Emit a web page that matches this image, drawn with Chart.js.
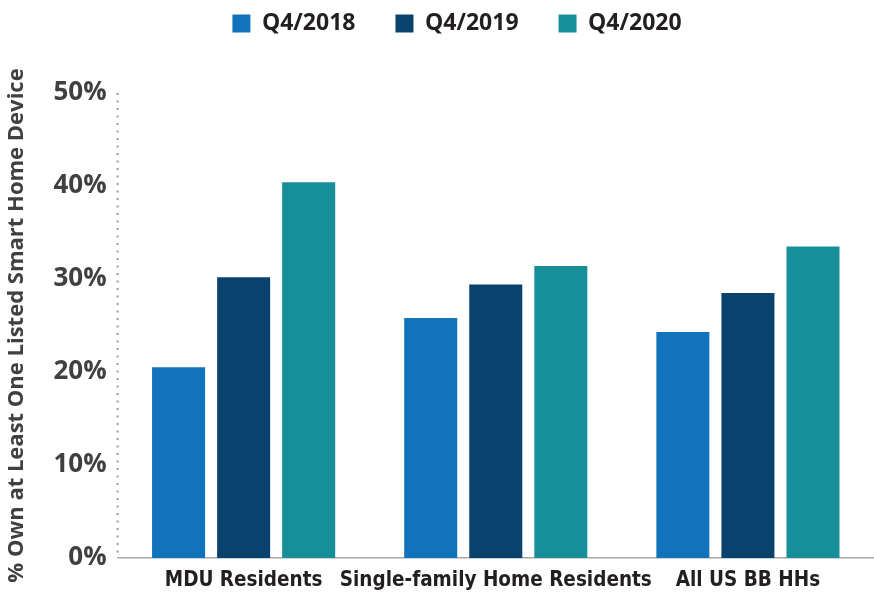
<!DOCTYPE html>
<html><head><meta charset="utf-8">
<script src="https://cdn.jsdelivr.net/npm/chart.js@4"></script>
<style>html,body{margin:0;padding:0;background:#fff}</style>
</head><body>
<canvas id="c" width="874" height="594"></canvas>
<script>
const categories = ['MDU Residents', 'Single-family Home Residents', 'All US BB HHs'];
const seriesNames = ['Q4/2018', 'Q4/2019', 'Q4/2020'];
const q2018 = [20.5, 25.8, 24.3];
const q2019 = [30.2, 29.4, 28.5];
const q2020 = [40.4, 31.4, 33.5];
const yTickValues = [0, 10, 20, 30, 40, 50];
const yTitle = '% Own at Least One Listed Smart Home Device';
const seriesColors = ['#1173BB', '#09436D', '#168F9A'];

const seriesData = [q2018, q2019, q2020];

// shift legend (cosmetic placement) and draw dotted y-axis line
const decor = {
  id: 'decor',
  afterLayout(chart) {
    const lg = chart.legend;
    if (lg) { lg.left += 20; lg.right += 20; lg.top -= 48; lg.bottom -= 48; }
  },
  afterDatasetsDraw(chart) {
    const y = chart.scales.y;
    const ctx = chart.ctx;
    ctx.save();
    ctx.strokeStyle = '#9a9a9a';
    ctx.lineWidth = 2;
    ctx.setLineDash([2, 5.5]);
    ctx.beginPath();
    ctx.moveTo(y.right, y.top);
    ctx.lineTo(y.right, y.bottom);
    ctx.stroke();
    ctx.restore();
  }
};

new Chart(document.getElementById('c'), {
  type: 'bar',
  data: {
    labels: categories,
    datasets: seriesNames.map((n, i) => ({
      label: n,
      data: seriesData[i],
      backgroundColor: seriesColors[i],
      borderWidth: 0,
      categoryPercentage: 0.774,
      barPercentage: 0.815
    }))
  },
  plugins: [decor],
  options: {
    responsive: false,
    animation: false,
    devicePixelRatio: 1,
    layout: { padding: { top: 20, right: 0, left: 0, bottom: -10 } },
    plugins: {
      tooltip: { enabled: false },
      legend: {
        position: 'top',
        labels: {
          boxWidth: 18,
          boxHeight: 18,
          padding: 40,
          color: '#231f20',
          font: { family: 'Open Sans', weight: 'bold', size: 23 }
        }
      }
    },
    scales: {
      x: {
        offset: true,
        grid: { display: false, drawTicks: false },
        border: { display: true, color: '#a8a8a8', width: 1.5 },
        ticks: {
          color: '#231f20',
          padding: 10.7,
          maxRotation: 0,
          autoSkip: false,
          font: { family: 'DejaVu Sans Condensed', weight: 'bold', size: 20.5 }
        }
      },
      y: {
        min: 0,
        max: 50,
        afterBuildTicks(scale) { scale.ticks = yTickValues.map(v => ({ value: v })); },
        grid: { display: false, drawTicks: false },
        border: { display: false },
        ticks: {
          color: '#404040',
          padding: 11,
          font: { family: 'Open Sans', weight: 'bold', size: 26 },
          callback: v => v + '%'
        },
        title: {
          display: true,
          text: yTitle,
          color: '#404040',
          padding: { top: 4, bottom: 12 },
          font: { family: 'Open Sans', weight: 'bold', size: 22 }
        }
      }
    }
  }
});
</script>
</body></html>
